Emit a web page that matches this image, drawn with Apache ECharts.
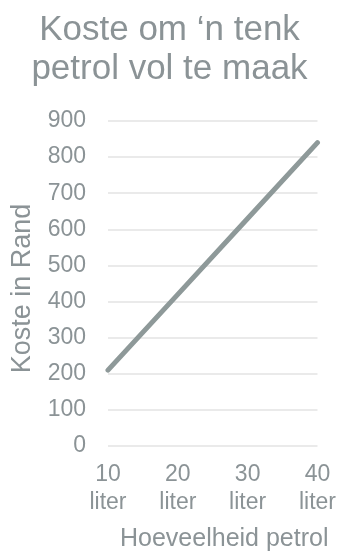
<!DOCTYPE html>
<html>
<head>
<meta charset="utf-8">
<script src="https://cdn.jsdelivr.net/npm/echarts@6/dist/echarts.min.js"></script>
<style>
  html, body { margin: 0; padding: 0; background: #ffffff; }
  #chart { width: 339px; height: 557px; }
</style>
</head>
<body>
<div id="chart"></div>
<script>
// Fuel amounts (litres) and the cost of filling up, in Rand
const categories = ['10\nliter', '20\nliter', '30\nliter', '40\nliter'];
const costs = [210, 420, 630, 840];
const yTicks = { min: 0, max: 900, interval: 100 };

const textColor = '#8b9396';
const font = '"Liberation Sans", Arial, sans-serif';

const chart = echarts.init(document.getElementById('chart'), null, { renderer: 'canvas' });
chart.setOption({
  animation: false,
  backgroundColor: '#ffffff',
  title: {
    text: 'Koste om \u2018n tenk\npetrol vol te maak',
    left: 'center',
    top: 6,
    textStyle: {
      color: textColor,
      fontFamily: font,
      fontSize: 35,
      fontWeight: 'normal',
      lineHeight: 39
    }
  },
  grid: { left: 108, right: 20, top: 121, bottom: 108 },
  xAxis: {
    type: 'category',
    data: categories,
    boundaryGap: false,
    name: 'Hoeveelheid petrol',
    nameLocation: 'middle',
    nameGap: 81,
    nameTextStyle: {
      color: textColor,
      fontFamily: font,
      fontSize: 25,
      padding: [0, 0, 0, 23]
    },
    axisLine: { show: false },
    axisTick: { show: false },
    axisLabel: {
      color: textColor,
      fontFamily: font,
      fontSize: 23,
      lineHeight: 28,
      margin: 15
    },
    splitLine: { show: false }
  },
  yAxis: {
    type: 'value',
    min: yTicks.min,
    max: yTicks.max,
    interval: yTicks.interval,
    name: 'Koste in Rand',
    nameLocation: 'middle',
    nameGap: 72,
    nameTextStyle: {
      color: textColor,
      fontFamily: font,
      fontSize: 27,
      padding: [0, 10, 0, 0]
    },
    axisLine: { show: false },
    axisTick: { show: false },
    axisLabel: {
      color: textColor,
      fontFamily: font,
      fontSize: 23,
      margin: 22
    },
    splitLine: { lineStyle: { color: '#e3e3e3', width: 1.5 } }
  },
  series: [{
    type: 'line',
    data: costs,
    symbol: 'none',
    lineStyle: { color: '#8e9999', width: 5, cap: 'round' }
  }]
});
</script>
</body>
</html>
